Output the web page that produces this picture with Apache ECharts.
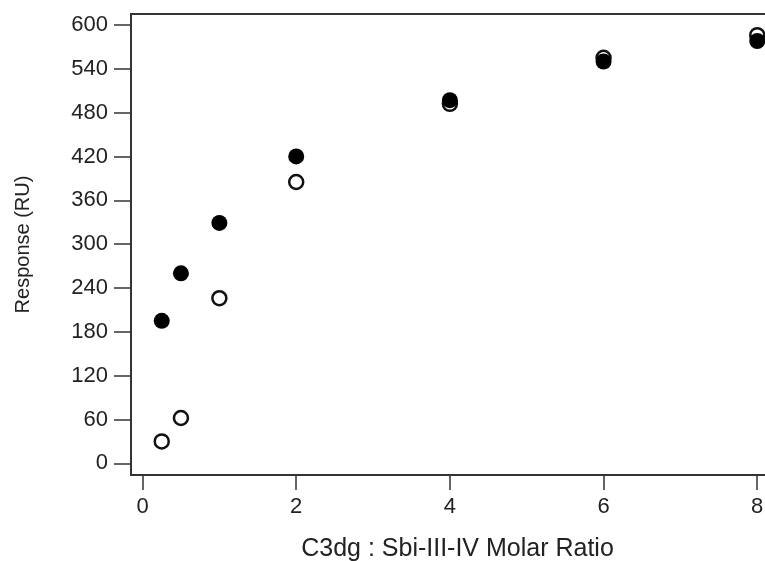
<!DOCTYPE html>
<html>
<head>
<meta charset="utf-8">
<script src="https://cdn.jsdelivr.net/npm/echarts@6/dist/echarts.min.js"></script>
<style>html,body{margin:0;padding:0;background:#fff}#c{width:765px;height:561px}</style>
</head>
<body>
<div id="c"></div>
<script>
const ratios = [0.25, 0.5, 1, 2, 4, 6, 8];
const openValues = [30, 62, 226, 385, 492, 555, 586];
const filledValues = [195, 260, 329, 420, 497, 550, 578];
const xTicks = [0, 2, 4, 6, 8];
const yTicks = [0, 60, 120, 180, 240, 300, 360, 420, 480, 540, 600];

const chart = echarts.init(document.getElementById('c'));
const font = '"Liberation Sans", Arial, sans-serif';
chart.setOption({
  animation: false,
  grid: {left: 131, top: 14, right: -3, bottom: 86, outerBoundsMode: 'none', containLabel: false,
         show: true, borderColor: '#333', borderWidth: 2},
  xAxis: {
    type: 'value', min: -0.15, max: 8.14,
    name: 'C3dg : Sbi-III-IV Molar Ratio', nameLocation: 'middle', nameGap: 62,
    nameTextStyle: {fontSize: 25, color: '#222', fontFamily: font, padding: [0, 0, 0, 16]},
    axisLine: {show: true, onZero: false, lineStyle: {color: '#333', width: 2}},
    axisTick: {show: true, length: 15, customValues: xTicks, lineStyle: {color: '#333', width: 1.5}},
    axisLabel: {customValues: xTicks, fontSize: 22, color: '#222', fontFamily: font, margin: 21},
    splitLine: {show: false}
  },
  yAxis: {
    type: 'value', min: -16, max: 615,
    name: 'Response (RU)', nameLocation: 'middle', nameGap: 98, nameRotate: 90,
    nameTextStyle: {fontSize: 20, color: '#222', fontFamily: font},
    axisLine: {show: true, onZero: false, lineStyle: {color: '#333', width: 2}},
    axisTick: {show: true, length: 17, customValues: yTicks, lineStyle: {color: '#333', width: 1.5}},
    axisLabel: {customValues: yTicks, fontSize: 22, color: '#222', fontFamily: font, margin: 23},
    splitLine: {show: false}
  },
  series: [
    {
      type: 'scatter', symbol: 'circle', symbolSize: 14,
      data: ratios.map((r, i) => [r, openValues[i]]),
      itemStyle: {color: '#fff', borderColor: '#111', borderWidth: 2.5, opacity: 1}
    },
    {
      type: 'scatter', symbol: 'circle', symbolSize: 16,
      data: ratios.map((r, i) => [r, filledValues[i]]),
      itemStyle: {color: '#000', borderColor: '#000', borderWidth: 0, opacity: 1}
    }
  ]
});
</script>
</body>
</html>
